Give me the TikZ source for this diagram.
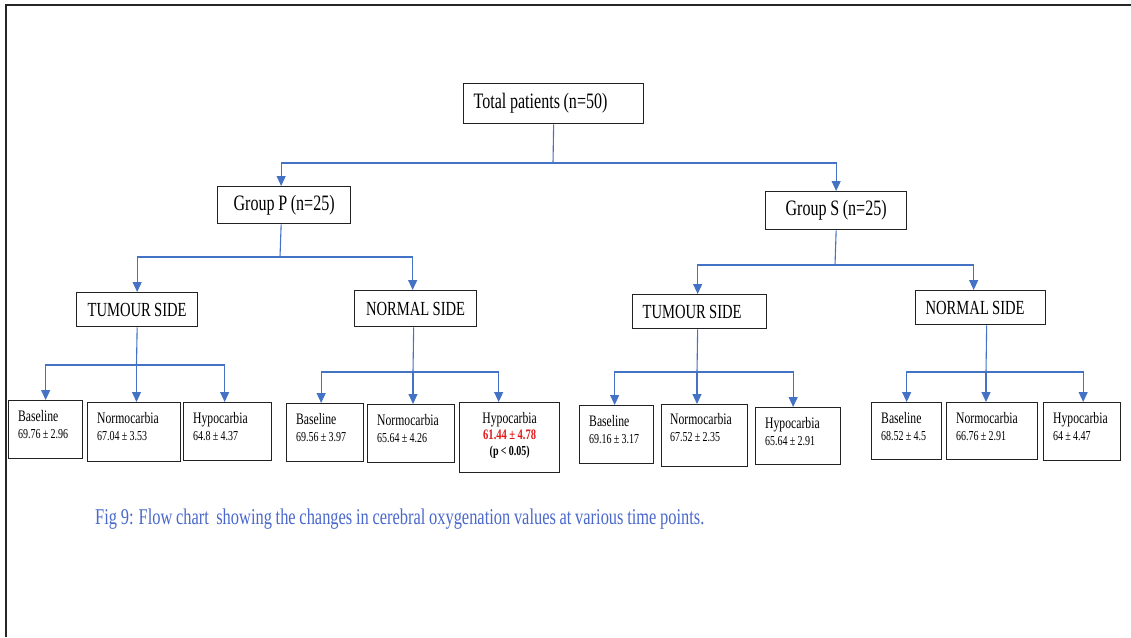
\documentclass[tikz,border=0pt]{standalone}
\usepackage{fontspec}
\setmainfont{Liberation Serif}[FakeStretch=0.73, WordSpace=0.9]
\usetikzlibrary{arrows.meta}
\definecolor{linkblue}{HTML}{4472C4}
\definecolor{capblue}{HTML}{4A68CC}
\definecolor{boxgray}{HTML}{222222}
\definecolor{sigred}{HTML}{E31A1C}
\newcommand\valfont{\fontsize{13.7}{17}\selectfont}
\begin{document}
\begin{tikzpicture}[x=1pt,y=-1pt,
  box/.style={draw=boxgray, line width=1.3pt, inner sep=0pt, anchor=north west},
  groupbox/.style={box, font=\fontsize{22}{24}\selectfont},
  sidebox/.style={box, font=\fontsize{20}{22}\selectfont},
  leaftext/.style={anchor=north west, inner sep=0pt, align=flush left, font=\fontsize{16}{17}\selectfont},
  conn/.style={draw=linkblue, line width=1.1pt},
  arr/.style={conn, -{Triangle[width=9pt,length=10pt]}},
  caption/.style={anchor=base west, inner sep=0pt, text=capblue, font=\fontsize{22.5}{25}\selectfont}]
\useasboundingbox (0,0) rectangle (1131,637);

% page frame
\draw[line width=2.5pt, draw=black!85, line join=miter] (6,637) -- (6,5) -- (1131,5);

% top levels
\node[groupbox, text width=160pt, inner xsep=10pt, align=flush left, minimum height=40pt] (total) at (463,83) {Total patients (n=50)};
\node[groupbox, minimum width=133pt, minimum height=37pt] (gp) at (217,186) {Group P (n=25)};
\node[groupbox, minimum width=141pt, minimum height=38pt] (gs) at (765,191) {Group S (n=25)};

% sides
\node[sidebox, minimum width=121pt, minimum height=34pt] (tp) at (76,292) {TUMOUR SIDE};
\node[sidebox, minimum width=122pt, minimum height=36pt] (np) at (354,290) {NORMAL SIDE};
\node[sidebox, text width=114pt, inner xsep=10pt, align=flush left, minimum height=34pt] (ts) at (632,294) {TUMOUR SIDE};
\node[sidebox, text width=110pt, inner xsep=10pt, align=flush left, minimum height=34pt] (ns) at (915,290) {NORMAL SIDE};

% leaf boxes
\node[box, minimum width=74pt, minimum height=58pt] (tpb) at (8,400) {};
\node[box, minimum width=93pt, minimum height=59pt] (tpn) at (87,402) {};
\node[box, minimum width=88pt, minimum height=58pt] (tph) at (183,402) {};
\node[box, minimum width=77pt, minimum height=58pt] (npb) at (286,403) {};
\node[box, minimum width=87pt, minimum height=58pt] (npn) at (367,404) {};
\node[box, minimum width=100pt, minimum height=70pt] (nph) at (459,402) {};
\node[box, minimum width=74pt, minimum height=58pt] (tsb) at (579,405) {};
\node[box, minimum width=86pt, minimum height=62pt] (tsn) at (661,404) {};
\node[box, minimum width=85pt, minimum height=57pt] (tsh) at (755,407) {};
\node[box, minimum width=70pt, minimum height=57pt] (nsb) at (871,402) {};
\node[box, minimum width=91pt, minimum height=57pt] (nsn) at (946,402) {};
\node[box, minimum width=77pt, minimum height=58pt] (nsh) at (1043,402) {};

% leaf texts
\node[leaftext] (tpbt) at ([xshift=10pt,yshift=-10pt]tpb.north west) {Baseline\\{\valfont 69.76 ± 2.96}};
\node[leaftext] (tpnt) at ([xshift=10pt,yshift=-10pt]tpn.north west) {Normocarbia\\{\valfont 67.04 ± 3.53}};
\node[leaftext] (tpht) at ([xshift=10pt,yshift=-10pt]tph.north west) {Hypocarbia\\{\valfont 64.8 ± 4.37}};
\node[leaftext] (npbt) at ([xshift=10pt,yshift=-10pt]npb.north west) {Baseline\\{\valfont 69.56 ± 3.97}};
\node[leaftext] (npnt) at ([xshift=10pt,yshift=-10pt]npn.north west) {Normocarbia\\{\valfont 65.64 ± 4.26}};
\node[leaftext, anchor=north, align=center, font=\fontsize{16}{16}\selectfont] (npht) at ([yshift=-10pt]nph.north)
  {Hypocarbia\\{\fontsize{14.5}{16}\selectfont\bfseries\color{sigred}61.44 ± 4.78}\\{\valfont\bfseries (p < 0.05)}};
\node[leaftext] (tsbt) at ([xshift=10pt,yshift=-10pt]tsb.north west) {Baseline\\{\valfont 69.16 ± 3.17}};
\node[leaftext] (tsnt) at ([xshift=9pt,yshift=-9pt]tsn.north west) {Normocarbia\\{\valfont 67.52 ± 2.35}};
\node[leaftext] (tsht) at ([xshift=10pt,yshift=-10pt]tsh.north west) {Hypocarbia\\{\valfont 65.64 ± 2.91}};
\node[leaftext] (nsbt) at ([xshift=10pt,yshift=-10pt]nsb.north west) {Baseline\\{\valfont 68.52 ± 4.5}};
\node[leaftext] (nsnt) at ([xshift=10pt,yshift=-10pt]nsn.north west) {Normocarbia\\{\valfont 66.76 ± 2.91}};
\node[leaftext] (nsht) at ([xshift=10pt,yshift=-10pt]nsh.north west) {Hypocarbia\\{\valfont 64 ± 4.47}};

% junctions of the connectors
\coordinate (jtot) at (553,163);
\coordinate (jgp) at (280,257);
\coordinate (jgs) at (835,265);
\coordinate (jtp) at (136.5,365);
\coordinate (jnp) at (413,372);
\coordinate (jts) at (697,372);
\coordinate (jns) at (986,372);

% total -> groups
\draw[conn] (total.south) -- (jtot);
\draw[arr] (jtot) -| ([xshift=-3pt]gp.north);
\draw[arr] (jtot) -| (gs.north);

% groups -> sides
\draw[conn] ([xshift=-3pt]gp.south) -- (jgp);
\draw[arr] (jgp) -| (tp.north);
\draw[arr] (jgp) -| ([xshift=-3pt]np.north);
\draw[conn] (gs.south) -- (jgs);
\draw[arr] (jgs) -| ([xshift=-2pt]ts.north);
\draw[arr] (jgs) -| ([xshift=-7pt]ns.north);

% sides -> time points
\draw[conn] (tp.south) -- (jtp);
\draw[arr] (jtp) -| (tpb.north);
\draw[arr] (jtp) -- (jtp |- tpn.north);
\draw[arr] (jtp) -| ([xshift=-3pt]tph.north);

\draw[conn] ([xshift=-2pt]np.south) -- (jnp);
\draw[arr] (jnp) -| ([xshift=-4pt]npb.north);
\draw[arr] (jnp) -- (jnp |- npn.north);
\draw[arr] (jnp) -| ([xshift=-11pt]nph.north);

\draw[conn] ([xshift=-2pt]ts.south) -- (jts);
\draw[arr] (jts) -| ([xshift=-2pt]tsb.north);
\draw[arr] (jts) -- (jts |- tsn.north);
\draw[arr] (jts) -| ([xshift=-5pt]tsh.north);

\draw[conn] ([xshift=6pt]ns.south) -- (jns);
\draw[arr] (jns) -| (nsb.north);
\draw[arr] (jns) -- (jns |- nsn.north);
\draw[arr] (jns) -| ([xshift=1pt]nsh.north);

% caption
\node[caption] (cap) at (95,524) {Fig 9: Flow chart\ \ showing the changes in cerebral oxygenation values at various time points.};
\end{tikzpicture}
\end{document}
